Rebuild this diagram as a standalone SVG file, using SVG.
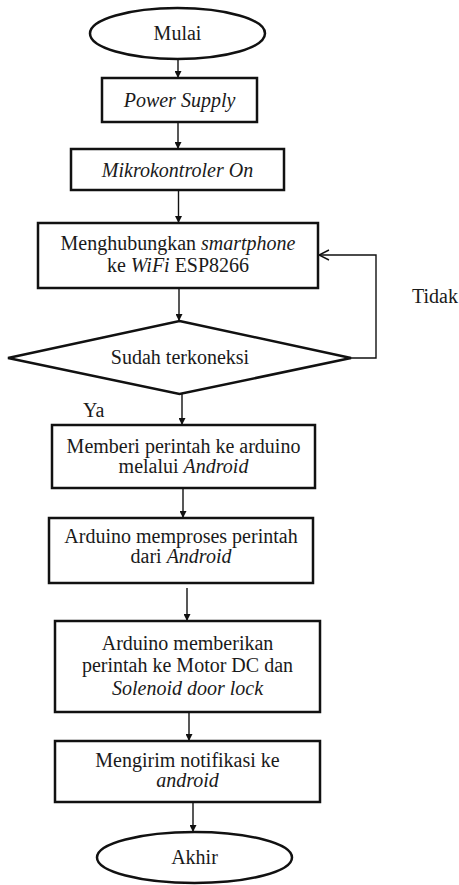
<svg xmlns="http://www.w3.org/2000/svg" width="459" height="885" viewBox="0 0 459 885">
<defs>
<marker id="ah" viewBox="0 0 10 10" refX="10" refY="5" markerWidth="7" markerHeight="7" markerUnits="userSpaceOnUse" orient="auto"><path d="M0,0 L10,5 L0,10 Z" fill="#111"/></marker>
<marker id="open" viewBox="0 0 12 12" refX="11" refY="6" markerWidth="12" markerHeight="12" markerUnits="userSpaceOnUse" orient="auto"><path d="M1,1 L11,6 L1,11" fill="none" stroke="#111" stroke-width="1.4"/></marker>
<style>
.shape{fill:#fff;stroke:#111;stroke-width:2.5}
text{font-family:"Liberation Serif","Times New Roman",serif;font-size:20px;fill:#1a1a1a;text-anchor:middle}
.i{font-style:italic}
.c{fill:none;stroke:#111;stroke-width:1.4}
</style>
</defs>
<rect width="459" height="885" fill="#fff"/>
<g id="connectors">
<line class="c" x1="178" y1="50" x2="178" y2="78" marker-end="url(#ah)"/>
<line class="c" x1="178" y1="122" x2="178" y2="149" marker-end="url(#ah)"/>
<line class="c" x1="178.5" y1="190" x2="178.5" y2="223" marker-end="url(#ah)"/>
<line class="c" x1="179" y1="288" x2="179" y2="321" marker-end="url(#ah)"/>
<line class="c" x1="182" y1="394" x2="182" y2="425" marker-end="url(#ah)"/>
<line class="c" x1="183" y1="488" x2="183" y2="518" marker-end="url(#ah)"/>
<line class="c" x1="187" y1="588" x2="187" y2="621" marker-end="url(#ah)"/>
<line class="c" x1="189" y1="712" x2="189" y2="741" marker-end="url(#ah)"/>
<line class="c" x1="193" y1="802" x2="193" y2="832" marker-end="url(#ah)"/>
<polyline class="c" points="351,358 376,358 376,255 319,255" marker-end="url(#open)"/>
<text x="412" y="303" style="text-anchor:start">Tidak</text>
<text x="83" y="417" style="text-anchor:start">Ya</text>
</g>
<g id="mulai">
<ellipse class="shape" cx="177.5" cy="33.5" rx="87.5" ry="25.5"/>
<text x="177.5" y="40">Mulai</text>
</g>
<g id="power">
<rect class="shape" x="102" y="78" width="155" height="44"/>
<text class="i" x="179.5" y="107">Power Supply</text>
</g>
<g id="mikro">
<rect class="shape" x="71" y="149" width="213" height="41"/>
<text class="i" x="177.5" y="177">Mikrokontroler On</text>
</g>
<g id="menghubungkan">
<rect class="shape" x="38" y="223" width="280" height="65"/>
<text x="178" y="250">Menghubungkan <tspan class="i">smartphone</tspan></text>
<text x="178" y="272">ke <tspan class="i">WiFi</tspan> ESP8266</text>
</g>
<g id="sudah">
<polygon class="shape" points="179.5,321 351,358 179.5,394 8,358"/>
<text x="180" y="364">Sudah terkoneksi</text>
</g>
<g id="memberi">
<rect class="shape" x="52" y="425" width="263" height="63"/>
<text x="183.5" y="453">Memberi perintah ke arduino</text>
<text x="183.5" y="473">melalui <tspan class="i">Android</tspan></text>
</g>
<g id="memproses">
<rect class="shape" x="49" y="518" width="264" height="65"/>
<text x="181" y="543">Arduino memproses perintah</text>
<text x="181" y="563">dari <tspan class="i">Android</tspan></text>
</g>
<g id="memberikan">
<rect class="shape" x="55" y="621" width="265" height="91"/>
<text x="187.5" y="650">Arduino memberikan</text>
<text x="187.5" y="672">perintah ke Motor DC dan</text>
<text class="i" x="187.5" y="695">Solenoid door lock</text>
</g>
<g id="mengirim">
<rect class="shape" x="55" y="741" width="265" height="61"/>
<text x="187.5" y="767">Mengirim notifikasi ke</text>
<text class="i" x="187.5" y="787">android</text>
</g>
<g id="akhir">
<ellipse class="shape" cx="194.5" cy="857.5" rx="97.5" ry="25.5"/>
<text x="194.5" y="864">Akhir</text>
</g>
</svg>
